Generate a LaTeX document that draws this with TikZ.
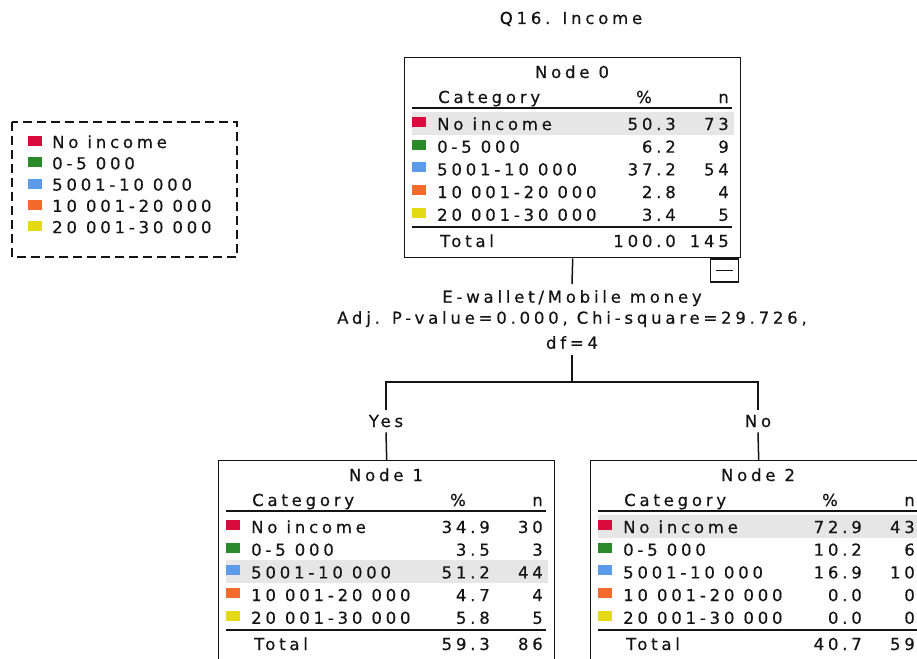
\documentclass[tikz,border=0pt]{standalone}
\usepackage{fontspec}
\setmainfont{DejaVu Sans}[LetterSpace=23, FakeBold=0.5]
\definecolor{cRed}{HTML}{DA0A3C}
\definecolor{cGreen}{HTML}{2A8A2A}
\definecolor{cBlue}{HTML}{5B9BEA}
\definecolor{cOrange}{HTML}{F26B2A}
\definecolor{cYellow}{HTML}{E3DA14}
\definecolor{hlgray}{HTML}{E6E6E6}
\definecolor{ink}{HTML}{141414}

\tikzset{
  txt/.style={inner sep=0pt, font=\fontsize{16.5}{20}\selectfont, text=ink},
  lbl/.style={txt, anchor=base west},
  num/.style={txt, anchor=base east},
  mid/.style={txt, anchor=base},
  nodebox/.style={draw=ink, line width=1.4pt, anchor=north west,
    minimum width=336pt, minimum height=200pt, inner sep=0pt},
  rule/.style={draw=ink, line width=1.6pt},
  conn/.style={draw=ink, line width=1.5pt},
  swatch/.style={draw=none},
  hl/.style={fill=hlgray},
}

% Category table with name #1, placed at #2, titled #3,
% highlighted row #4, rows pct/n in #5, total pct/n in #6/#7
\newcommand\cattable[7]{%
  \begin{scope}[shift={#2}]
    \fill[hl] (8,{73+22.7*(#4-1)-18}) rectangle (330,{73+22.7*(#4-1)+5});
    \node[nodebox] (#1) at (0,0) {};
    \node[mid] (#1-title) at (168,21) {#3};
    \node[lbl] (#1-cath) at (34,46) {Category};
    \node[mid] (#1-pcth) at (240,46) {\%};
    \node[num] (#1-nh) at (325,46) {n};
    \draw[rule] (8,51) -- (328,51);
    \foreach \lab/\col [count=\i from 0] in
      {No income/cRed, 0-5 000/cGreen, 5001-10 000/cBlue,
       10 001-20 000/cOrange, 20 001-30 000/cYellow}{
      \fill[swatch, fill=\col] (8,{73+22.7*\i-13}) rectangle (22,{73+22.7*\i-3});
      \node[lbl] (#1-lab\i) at (33,{73+22.7*\i}) {\lab};
    }
    \foreach \p/\n [count=\i from 0] in {#5}{
      \node[num] (#1-pct\i) at (272,{73+22.7*\i}) {\p};
      \node[num] (#1-n\i) at (325,{73+22.7*\i}) {\n};
    }
    \draw[rule] (8,170) -- (328,170);
    \node[lbl] (#1-totl) at (36,190) {Total};
    \node[num] (#1-totp) at (272,190) {#6};
    \node[num] (#1-totn) at (325,190) {#7};
  \end{scope}%
}

\begin{document}
\begin{tikzpicture}[x=1pt, y=-1pt]
  \useasboundingbox[fill=white] (0,0) rectangle (917,658);

  % dependent variable
  \node[mid] (heading) at (571,24) {Q16. Income};

  % legend
  \draw[draw=ink, line width=1.4pt, dash pattern=on 9pt off 5pt]
    (12,122) rectangle (237,257);
  \foreach \lab/\col [count=\i from 0] in
    {No income/cRed, 0-5 000/cGreen, 5001-10 000/cBlue,
     10 001-20 000/cOrange, 20 001-30 000/cYellow}{
    \fill[swatch, fill=\col] (28,{148+21.3*\i-12}) rectangle (42,{148+21.3*\i-2});
    \node[lbl] (leg\i) at (52,{148+21.3*\i}) {\lab};
  }

  % tree nodes
  \cattable{n0}{(404,57)}{Node 0}{1}
    {50.3/73, 6.2/9, 37.2/54, 2.8/4, 3.4/5}{100.0}{145}
  \cattable{n1}{(218,460)}{Node 1}{3}
    {34.9/30, 3.5/3, 51.2/44, 4.7/4, 5.8/5}{59.3}{86}
  \cattable{n2}{(590,460)}{Node 2}{1}
    {72.9/43, 10.2/6, 16.9/10, 0.0/0, 0.0/0}{40.7}{59}

  % collapse toggle under the root
  \node[draw=ink, line width=1.4pt, anchor=north east, minimum width=28pt,
    minimum height=23pt, inner sep=0pt] (toggle) at ([xshift=-2pt]n0.south east) {};
  \draw[draw=ink, line width=1.4pt] ([xshift=6pt]toggle.west) -- ([xshift=-6pt]toggle.east);

  % split description
  \node[txt, anchor=north, align=center, inner ysep=6pt] (split) at (572,284)
    {E-wallet/Mobile money\\[1pt]
     Adj. P-value=0.000, Chi-square=29.726,\\[5pt]
     df=4};

  \coordinate (fork) at (572,382);
  \node[mid, inner ysep=5pt] (yes) at (386,427) {Yes};
  \node[mid, inner ysep=5pt] (no) at (758,427) {No};

  \draw[conn] (n0.south) -- (split.north);
  \draw[conn] (split.south) -- (fork);
  \draw[conn] (yes.north) |- (fork) -| (no.north);
  \draw[conn] (yes.south) -- (n1.north);
  \draw[conn] (no.south) -- (n2.north);
\end{tikzpicture}
\end{document}
